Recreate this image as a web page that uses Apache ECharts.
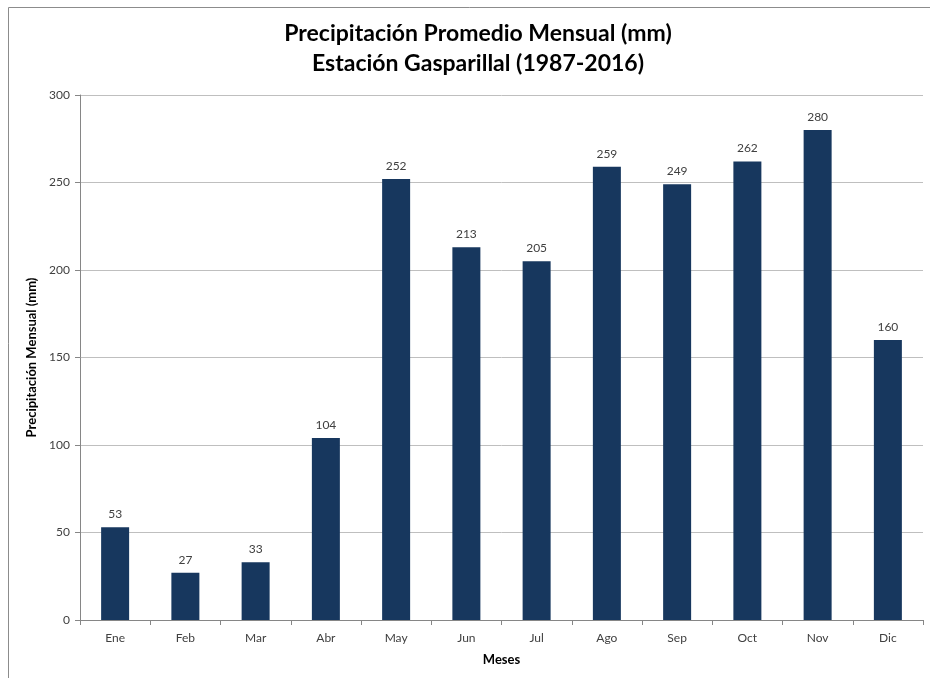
<!DOCTYPE html>
<html>
<head>
<meta charset="utf-8">
<script src="https://cdn.jsdelivr.net/npm/echarts@6/dist/echarts.min.js"></script>
<style>html,body{margin:0;padding:0;background:#fff;}#c{width:930px;height:678px;}</style>
</head>
<body>
<div id="c"></div>
<script>
const categories = ['Ene','Feb','Mar','Abr','May','Jun','Jul','Ago','Sep','Oct','Nov','Dic'];
const precipitation = [53, 27, 33, 104, 252, 213, 205, 259, 249, 262, 280, 160];
const titleText = 'Precipitación Promedio Mensual (mm)\nEstación Gasparillal (1987-2016)';
const yAxisName = 'Precipitación Mensual (mm)';
const xAxisName = 'Meses';

const FONT = 'Lato, "Open Sans", sans-serif';
const chart = echarts.init(document.getElementById('c'), null, {renderer: 'canvas'});
chart.setOption({
  animation: false,
  backgroundColor: '#fff',
  graphic: [{
    type: 'rect', silent: true, z: -1,
    shape: {x: 8.5, y: 7.5, width: 1000, height: 1000},
    style: {fill: 'none', stroke: '#8c8c8c', lineWidth: 1}
  }],
  title: {
    text: titleText,
    top: 14, left: 473, textAlign: 'center',
    textStyle: {fontFamily: FONT, fontSize: 23, fontWeight: 'bold', color: '#000', lineHeight: 30}
  },
  grid: {left: 80, right: 7, top: 95, bottom: 58, containLabel: false},
  xAxis: {
    type: 'category', data: categories,
    name: xAxisName, nameLocation: 'middle', nameGap: 33,
    nameTextStyle: {fontFamily: FONT, fontSize: 13, fontWeight: 'bold', color: '#000'},
    axisLine: {lineStyle: {color: '#868686'}},
    axisTick: {show: true, length: 5, alignWithLabel: false, lineStyle: {color: '#868686'}},
    axisLabel: {fontFamily: FONT, fontSize: 12, color: '#404040', margin: 12}
  },
  yAxis: {
    type: 'value', min: 0, max: 300, interval: 50,
    name: yAxisName, nameLocation: 'middle', nameGap: 41, nameRotate: 90,
    nameTextStyle: {fontFamily: FONT, fontSize: 13, fontWeight: 'bold', color: '#000'},
    axisLine: {show: true, lineStyle: {color: '#868686'}},
    axisTick: {show: true, length: 5, inside: false, lineStyle: {color: '#868686'}},
    axisLabel: {fontFamily: FONT, fontSize: 12, color: '#404040', margin: 10},
    splitLine: {lineStyle: {color: '#bfbfbf'}}
  },
  series: [{
    type: 'bar', data: precipitation, barWidth: 28,
    itemStyle: {color: '#17375e'},
    label: {show: true, position: 'top', distance: 7, fontFamily: FONT, fontSize: 12, color: '#404040'}
  }]
});
</script>
</body>
</html>
